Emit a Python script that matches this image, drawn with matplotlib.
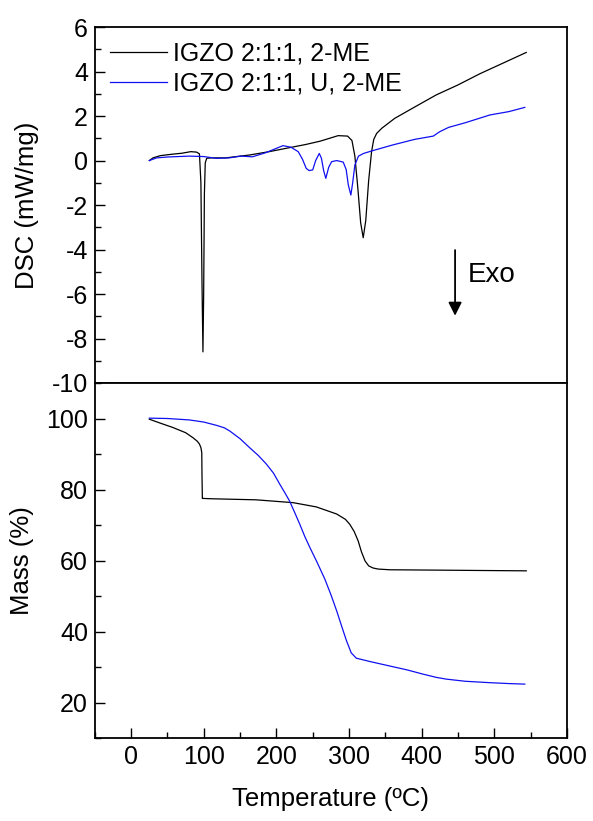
import matplotlib
matplotlib.use("Agg")
from matplotlib import pyplot as plt
from matplotlib.ticker import MultipleLocator

plt.rcParams['font.family'] = ['Liberation Sans', 'DejaVu Sans']
plt.rcParams['axes.unicode_minus'] = False

# DSC, IGZO 2:1:1, 2-ME (black)
t_dsc_a = [25, 30, 40, 55, 70, 82, 90, 94, 96, 97.5, 98.8, 99.8, 100.8, 102, 104, 110, 130, 163,
           190, 218, 240, 260, 285, 298, 304, 308, 312, 316, 319.5, 323, 327, 331, 334, 338, 345,
           363, 390, 420, 450, 480, 510, 544]
dsc_a = [0.0, 0.12, 0.22, 0.28, 0.33, 0.4, 0.38, 0.3, -1.0, -5.5, -8.6, -6.0, -1.5, -0.1, 0.1, 0.12,
         0.12, 0.25, 0.4, 0.58, 0.72, 0.87, 1.12, 1.1, 0.9, 0.2, -1.2, -2.8, -3.47, -2.7, -0.9, 0.4,
         0.95, 1.22, 1.45, 1.9, 2.4, 2.95, 3.4, 3.9, 4.35, 4.86]

# DSC, IGZO 2:1:1, U, 2-ME (blue)
t_dsc_b = [25, 35, 50, 80, 100, 117, 135, 151, 167, 185, 200, 209, 220, 230, 236, 241, 245, 250,
           254, 259, 262, 265, 268, 272, 276, 283, 292, 296, 299, 302.5, 305, 308, 313, 320, 333,
           360, 390, 416, 425, 437, 460, 494, 520, 542]
dsc_b = [0.0, 0.12, 0.16, 0.2, 0.18, 0.1, 0.12, 0.2, 0.17, 0.35, 0.55, 0.67, 0.6, 0.4, 0.05, -0.35,
         -0.45, -0.42, 0.0, 0.32, 0.1, -0.45, -0.8, -0.3, -0.05, 0.0, -0.07, -0.4, -1.1, -1.55, -1.0,
         -0.2, 0.2, 0.32, 0.45, 0.7, 0.95, 1.1, 1.3, 1.49, 1.7, 2.05, 2.2, 2.39]

# Mass, IGZO 2:1:1, 2-ME (black)
t_mass_a = [25, 40, 57, 75, 85, 91, 94, 96, 97.2, 97.5, 98, 110, 172, 223, 255, 283, 295, 301,
            307, 312.6, 317, 322, 327, 333, 340, 356, 420, 480, 544]
mass_a = [99.8, 98.7, 97.5, 96.0, 94.6, 93.6, 92.8, 91.8, 90.4, 84.0, 77.5, 77.4, 77.1, 76.3, 75.1,
          73.1, 71.6, 70.2, 68.2, 65.5, 62.5, 59.9, 58.5, 57.9, 57.6, 57.4, 57.3, 57.2, 57.1]

# Mass, IGZO 2:1:1, U, 2-ME (blue)
t_mass_b = [25, 50, 80, 100, 117, 128, 135.6, 150, 163, 175, 186, 196, 204.6, 211, 218, 225, 232,
            239, 246, 256, 266.6, 275, 283, 290, 296.5, 303, 310, 330, 356, 380, 402, 420, 434,
            460, 494, 520, 542]
mass_b = [100.1, 100.0, 99.6, 99.0, 98.1, 97.4, 96.5, 94.3, 91.8, 89.6, 87.2, 84.6, 81.5, 79.3,
          76.8, 73.6, 70.3, 66.8, 63.7, 59.5, 54.8, 50.4, 45.8, 41.4, 37.4, 34.0, 32.5, 31.5,
          30.3, 29.2, 28.0, 27.1, 26.6, 26.0, 25.6, 25.35, 25.2]

labels = ["IGZO 2:1:1, 2-ME", "IGZO 2:1:1, U, 2-ME"]

fig = plt.figure(figsize=(5.93, 8.21), dpi=100)
ax1 = fig.add_axes([0.160, 0.5335, 0.796, 0.4335])
ax2 = fig.add_axes([0.160, 0.101, 0.796, 0.4325])

ax1.plot(t_dsc_a, dsc_a, color='black', lw=0.9, label=labels[0])
ax1.plot(t_dsc_b, dsc_b, color='#1010f0', lw=0.9, label=labels[1])
ax1.set_xlim(-50, 600)
ax1.set_ylim(-10, 6)
ax1.yaxis.set_major_locator(MultipleLocator(2))
ax1.yaxis.set_minor_locator(MultipleLocator(1))
ax1.tick_params(axis='y', which='both', direction='in', right=False, labelsize=18, pad=5)
ax1.tick_params(axis='y', which='major', length=7, width=1)
ax1.tick_params(axis='y', which='minor', length=4, width=1)
ax1.tick_params(axis='x', which='both', bottom=False, top=False, labelbottom=False)
ax1.set_ylabel("DSC (mW/mg)", fontsize=18.5, labelpad=9)
ax1.legend(loc='upper left', bbox_to_anchor=(0.032, 0.96), frameon=False, fontsize=18,
           handlelength=2.28, handletextpad=0.24, labelspacing=0.25, borderaxespad=0,
           borderpad=0)
ax1.annotate("", xy=(446, -7.1), xytext=(446, -3.9),
             arrowprops=dict(arrowstyle='-|>', color='black', lw=1.3, mutation_scale=20))
ax1.text(463, -5.15, "Exo", fontsize=20, va='center', ha='left')

ax2.plot(t_mass_a, mass_a, color='black', lw=0.9)
ax2.plot(t_mass_b, mass_b, color='#1010f0', lw=0.9)
ax2.set_xlim(-50, 600)
ax2.set_ylim(10, 110)
ax2.xaxis.set_major_locator(MultipleLocator(100))
ax2.xaxis.set_minor_locator(MultipleLocator(50))
ax2.yaxis.set_major_locator(MultipleLocator(20))
ax2.yaxis.set_minor_locator(MultipleLocator(10))
ax2.tick_params(which='both', direction='in', right=False, top=False, labelsize=18, pad=5)
ax2.tick_params(which='major', length=7, width=1)
ax2.tick_params(which='minor', length=4, width=1)
ax2.set_ylabel("Mass (%)", fontsize=18.5, labelpad=9)
ax2.set_xlabel("Temperature (\u00baC)", fontsize=18.5, labelpad=13)

for ax in (ax1, ax2):
    for s in ax.spines.values():
        s.set_linewidth(1.3)

fig.savefig("out.png", dpi=100)
